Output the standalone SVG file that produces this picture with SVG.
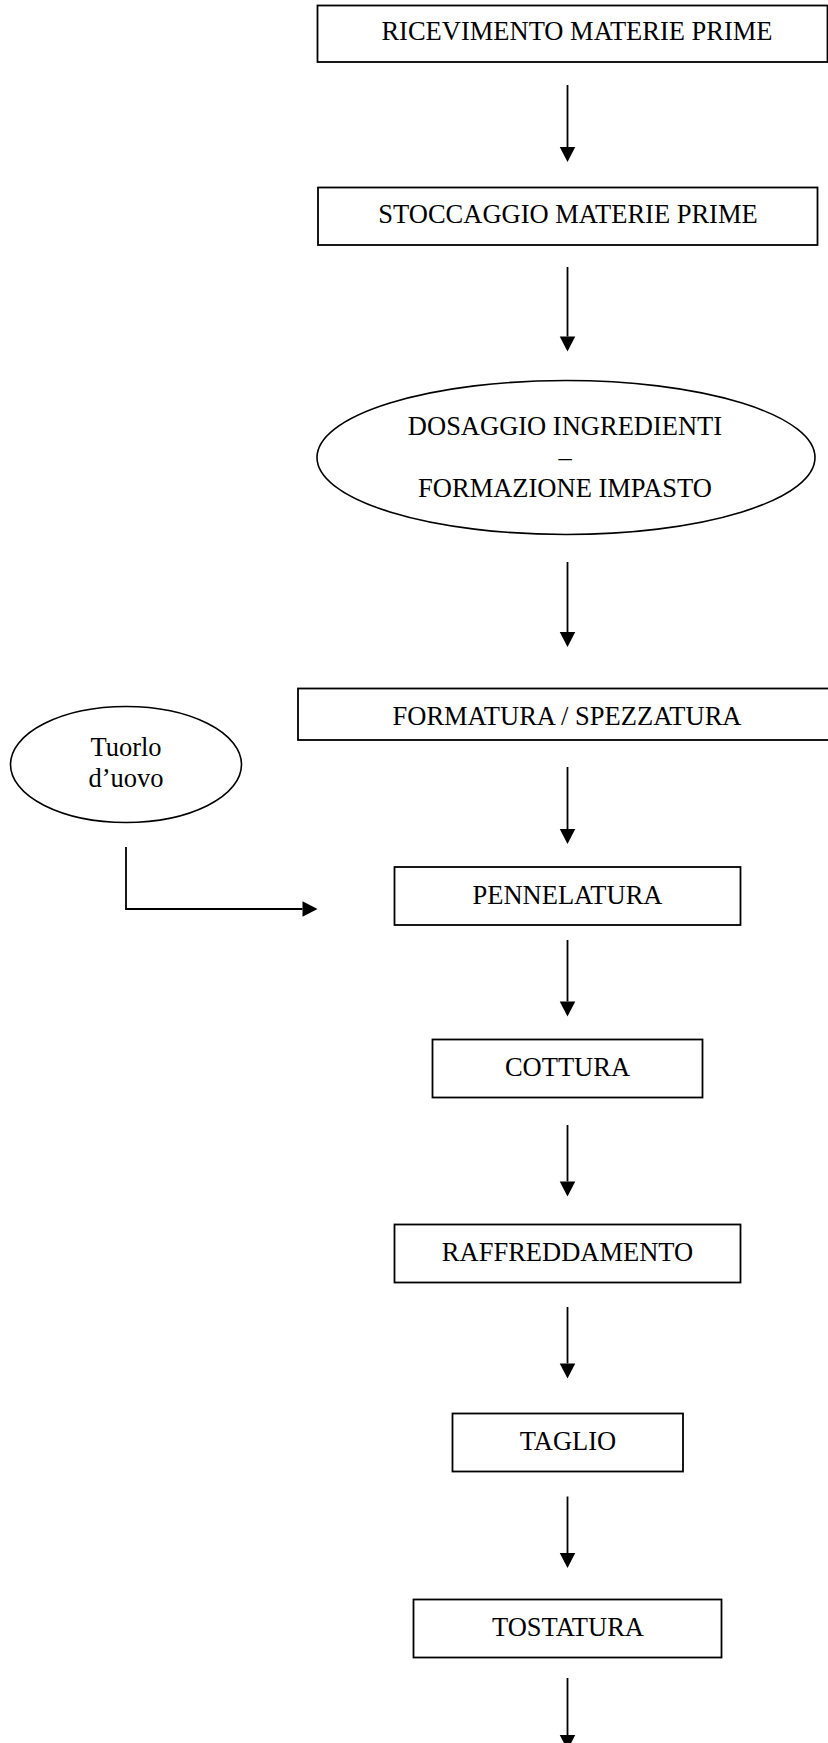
<svg xmlns="http://www.w3.org/2000/svg" width="828" height="1743" viewBox="0 0 828 1743">
  <style>
    .box { fill: #ffffff; stroke: #000000; stroke-width: 1.8; }
    .oval { fill: #ffffff; stroke: #000000; stroke-width: 1.6; }
    .lbl { font-family: "Liberation Serif", "Times New Roman", serif; font-size: 26.5px; fill: #000000; text-anchor: middle; }
    .flow { fill: none; stroke: #000000; stroke-width: 1.8; marker-end: url(#head); }
  </style>
  <defs>
    <marker id="head" markerUnits="userSpaceOnUse" markerWidth="16" markerHeight="16" refX="0" refY="7.75" orient="auto" overflow="visible">
      <path d="M0,0 L15,7.75 L0,15.5 Z" fill="#000000"/>
    </marker>
  </defs>
  <rect width="828" height="1743" fill="#ffffff"/>

  <!-- process steps -->
  <g id="ricevimento">
    <rect class="box" x="317.5" y="5.5" width="510" height="56.5"/>
    <text class="lbl" x="577" y="40">RICEVIMENTO MATERIE PRIME</text>
  </g>
  <g id="stoccaggio">
    <rect class="box" x="318" y="187.5" width="499.5" height="57.5"/>
    <text class="lbl" x="568" y="222.5">STOCCAGGIO MATERIE PRIME</text>
  </g>
  <g id="dosaggio">
    <ellipse class="oval" cx="566" cy="457.5" rx="249" ry="77"/>
    <text class="lbl" x="565" y="435">DOSAGGIO INGREDIENTI</text>
    <text class="lbl" x="565" y="466">–</text>
    <text class="lbl" x="565" y="497">FORMAZIONE IMPASTO</text>
  </g>
  <g id="formatura">
    <rect class="box" x="298" y="688.5" width="532" height="51.5"/>
    <text class="lbl" x="567" y="724.5">FORMATURA / SPEZZATURA</text>
  </g>
  <g id="tuorlo">
    <ellipse class="oval" cx="126" cy="764.5" rx="115.5" ry="58"/>
    <text class="lbl" x="126" y="755.5">Tuorlo</text>
    <text class="lbl" x="126" y="787">d’uovo</text>
  </g>
  <g id="pennelatura">
    <rect class="box" x="394.5" y="867" width="346" height="58"/>
    <text class="lbl" x="567.5" y="903.5">PENNELATURA</text>
  </g>
  <g id="cottura">
    <rect class="box" x="432.5" y="1039.5" width="270" height="58"/>
    <text class="lbl" x="567.5" y="1075.5">COTTURA</text>
  </g>
  <g id="raffreddamento">
    <rect class="box" x="394.5" y="1224.5" width="346" height="58"/>
    <text class="lbl" x="567.5" y="1260.5">RAFFREDDAMENTO</text>
  </g>
  <g id="taglio">
    <rect class="box" x="452.5" y="1413.5" width="230.5" height="58"/>
    <text class="lbl" x="568" y="1449.5">TAGLIO</text>
  </g>
  <g id="tostatura">
    <rect class="box" x="413.5" y="1599.5" width="308" height="58"/>
    <text class="lbl" x="568" y="1635.5">TOSTATURA</text>
  </g>

  <!-- connectors -->
  <g id="connectors">
    <line class="flow" x1="567.5" y1="85" x2="567.5" y2="147"/>
    <line class="flow" x1="567.5" y1="267" x2="567.5" y2="336.5"/>
    <line class="flow" x1="567.5" y1="562" x2="567.5" y2="632"/>
    <line class="flow" x1="567.5" y1="767" x2="567.5" y2="829"/>
    <polyline class="flow" points="126,847 126,909 302.5,909"/>
    <line class="flow" x1="567.5" y1="940" x2="567.5" y2="1001.5"/>
    <line class="flow" x1="567.5" y1="1125" x2="567.5" y2="1181.5"/>
    <line class="flow" x1="567.5" y1="1307" x2="567.5" y2="1363.5"/>
    <line class="flow" x1="567.5" y1="1496.5" x2="567.5" y2="1553"/>
    <line class="flow" x1="567.5" y1="1678" x2="567.5" y2="1735"/>
  </g>
</svg>
